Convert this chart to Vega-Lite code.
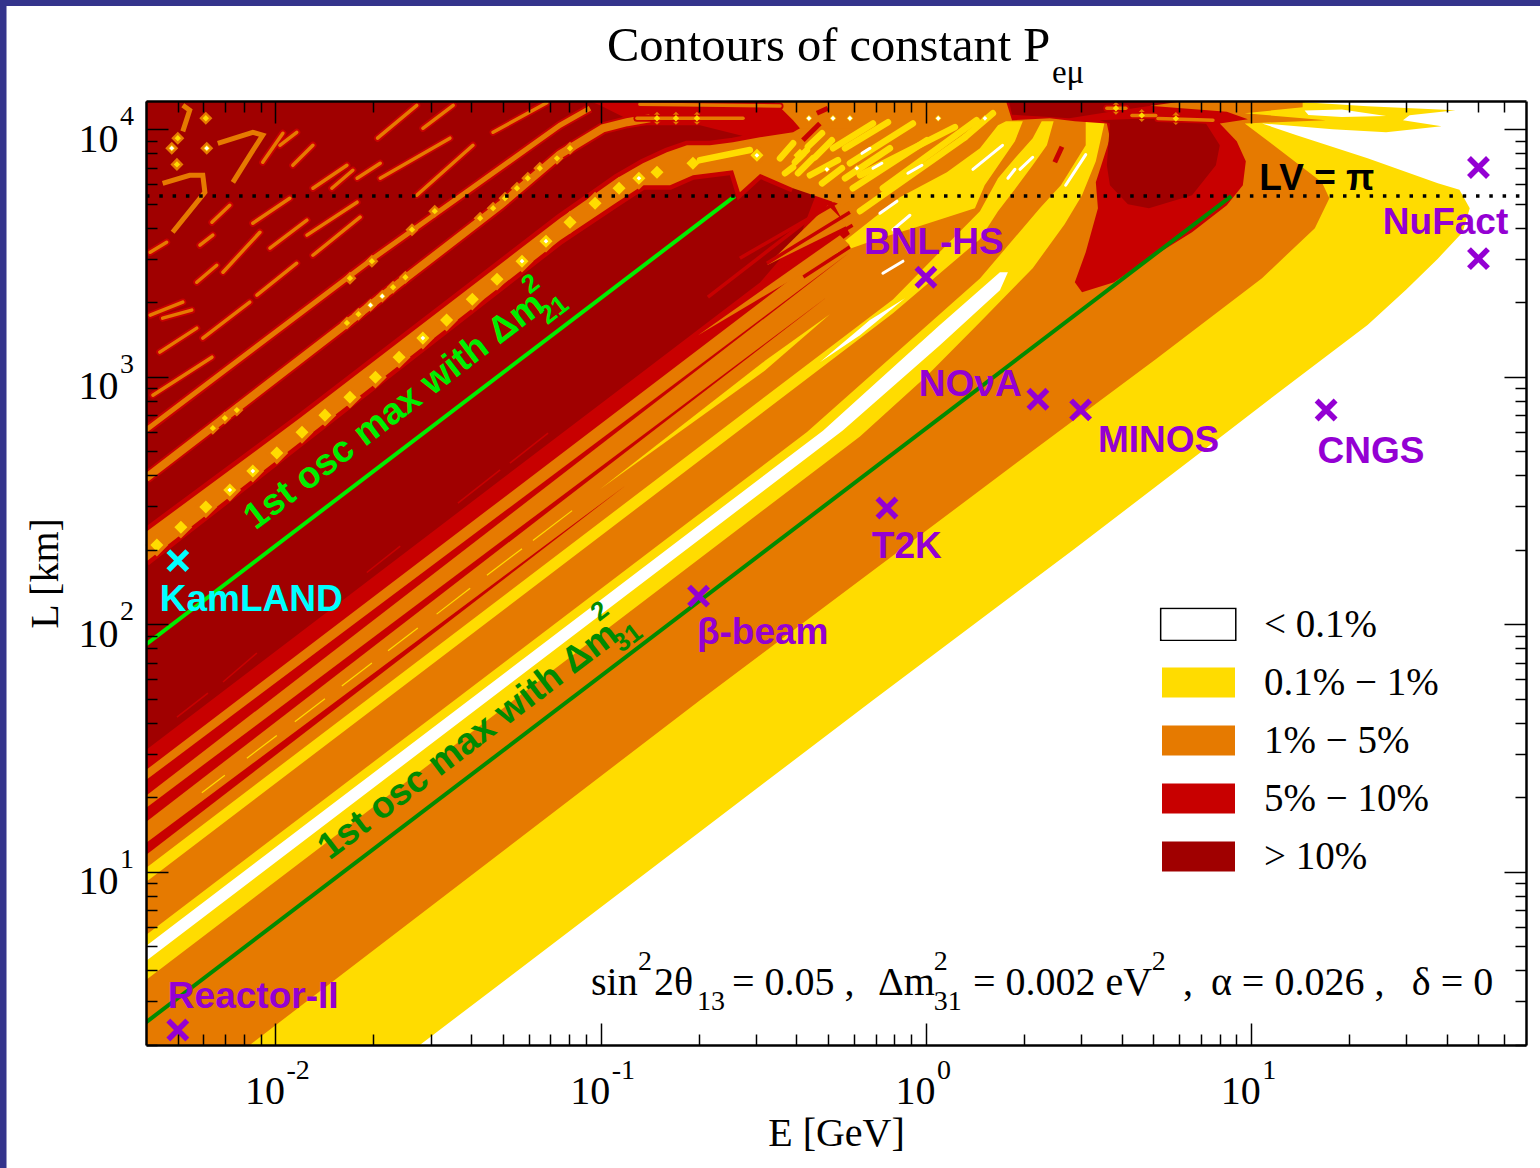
{"$schema":"https://vega.github.io/schema/vega-lite/v6.json","width":1380,"height":944,"autosize":"none","padding":{"left":146,"top":101,"right":14,"bottom":123},"background":"#34348c",
"title":{"text":"Contours of constant P","anchor":"start","frame":"group","dx":461,"fontSize":48.5,"font":"Liberation Serif","fontWeight":"normal","offset":-66,"color":"black"},
"config":{"view":{"stroke":null}},
"datasets":{
"polys":[
{"p":1,"band":"0.1-1","E":0.004,"L":2},{"p":1,"band":"0.1-1","E":0.0278,"L":2},{"p":1,"band":"0.1-1","E":0.687,"L":49.4},{"p":1,"band":"0.1-1","E":2.84,"L":200},{"p":1,"band":"0.1-1","E":8.19,"L":581},{"p":1,"band":"0.1-1","E":13.8,"L":983},{"p":1,"band":"0.1-1","E":22.8,"L":1617},{"p":1,"band":"0.1-1","E":30,"L":2250},{"p":1,"band":"0.1-1","E":37.5,"L":3000},{"p":1,"band":"0.1-1","E":44.7,"L":3836},{"p":1,"band":"0.1-1","E":47,"L":4795},{"p":1,"band":"0.1-1","E":43.7,"L":5690},{"p":1,"band":"0.1-1","E":37.5,"L":6047},{"p":1,"band":"0.1-1","E":22.8,"L":7630},{"p":1,"band":"0.1-1","E":13.8,"L":9459},{"p":1,"band":"0.1-1","E":10.8,"L":10550},{"p":1,"band":"0.1-1","E":17.8,"L":10000},{"p":1,"band":"0.1-1","E":26,"L":9722},{"p":1,"band":"0.1-1","E":38.5,"L":10280},{"p":1,"band":"0.1-1","E":29.3,"L":10870},{"p":1,"band":"0.1-1","E":30.7,"L":11385},{"p":1,"band":"0.1-1","E":42.5,"L":11930},{"p":1,"band":"0.1-1","E":22.8,"L":12380},{"p":1,"band":"0.1-1","E":14.6,"L":12850},{"p":1,"band":"0.1-1","E":14.6,"L":13000},{"p":1,"band":"0.1-1","E":0.004,"L":13000},
{"p":2,"band":"<0.1","E":14.6,"L":11900},{"p":2,"band":"<0.1","E":19,"L":12000},{"p":2,"band":"<0.1","E":26,"L":11300},{"p":2,"band":"<0.1","E":19,"L":11200},{"p":2,"band":"<0.1","E":15,"L":11400},
{"p":3,"band":"1-5","E":0.00834,"L":2},{"p":3,"band":"1-5","E":0.202,"L":49.4},{"p":3,"band":"1-5","E":2.47,"L":581},{"p":3,"band":"1-5","E":5.09,"L":1178},{"p":3,"band":"1-5","E":10.8,"L":2502},{"p":3,"band":"1-5","E":15.7,"L":3983},{"p":3,"band":"1-5","E":17.4,"L":5262},{"p":3,"band":"1-5","E":16.5,"L":6100},{"p":3,"band":"1-5","E":12.25,"L":8244},{"p":3,"band":"1-5","E":9.56,"L":10550},{"p":3,"band":"1-5","E":16.97,"L":10870},{"p":3,"band":"1-5","E":9.56,"L":11600},{"p":3,"band":"1-5","E":14.4,"L":12270},{"p":3,"band":"1-5","E":14.4,"L":13000},{"p":3,"band":"1-5","E":0.004,"L":13000},{"p":3,"band":"1-5","E":0.004,"L":2},
{"p":4,"band":"0.1-1","E":0.004,"L":3.66},{"p":4,"band":"0.1-1","E":0.627,"L":574},{"p":4,"band":"0.1-1","E":1,"L":1000},{"p":4,"band":"0.1-1","E":1.466,"L":1662},{"p":4,"band":"0.1-1","E":2.13,"L":2745},{"p":4,"band":"0.1-1","E":2.67,"L":4131},{"p":4,"band":"0.1-1","E":3.02,"L":5412},{"p":4,"band":"0.1-1","E":3.33,"L":7424},{"p":4,"band":"0.1-1","E":3.55,"L":10770},{"p":4,"band":"0.1-1","E":3.1,"L":10770},{"p":4,"band":"0.1-1","E":3.1,"L":8610},{"p":4,"band":"0.1-1","E":2.6,"L":5940},{"p":4,"band":"0.1-1","E":2.24,"L":4795},{"p":4,"band":"0.1-1","E":1.466,"L":2495},{"p":4,"band":"0.1-1","E":0.431,"L":599},{"p":4,"band":"0.1-1","E":0.004,"L":5.56},
{"p":5,"band":"0.1-1","E":0.004,"L":9.11},{"p":5,"band":"0.1-1","E":0.792,"L":1804},{"p":5,"band":"0.1-1","E":1.466,"L":3595},{"p":5,"band":"0.1-1","E":1.666,"L":4665},{"p":5,"band":"0.1-1","E":1.878,"L":5724},{"p":5,"band":"0.1-1","E":2.13,"L":7150},{"p":5,"band":"0.1-1","E":2.355,"L":8610},{"p":5,"band":"0.1-1","E":2.47,"L":10770},{"p":5,"band":"0.1-1","E":2.27,"L":10770},{"p":5,"band":"0.1-1","E":2.13,"L":9198},{"p":5,"band":"0.1-1","E":1.878,"L":7630},{"p":5,"band":"0.1-1","E":1.666,"L":6339},{"p":5,"band":"0.1-1","E":1.466,"L":4665},{"p":5,"band":"0.1-1","E":0.792,"L":2054},{"p":5,"band":"0.1-1","E":0.004,"L":10.38},
{"p":6,"band":"0.1-1","E":1.763,"L":10770},{"p":6,"band":"0.1-1","E":1.986,"L":10770},{"p":6,"band":"0.1-1","E":1.878,"L":8944},{"p":6,"band":"0.1-1","E":1.516,"L":5940},{"p":6,"band":"0.1-1","E":1.415,"L":4795},{"p":6,"band":"0.1-1","E":0.912,"L":3983},{"p":6,"band":"0.1-1","E":0.722,"L":3630},{"p":6,"band":"0.1-1","E":0.4826,"L":3013},{"p":6,"band":"0.1-1","E":0.832,"L":5313},{"p":6,"band":"0.1-1","E":1.16,"L":6700},{"p":6,"band":"0.1-1","E":1.466,"L":8375},{"p":6,"band":"0.1-1","E":1.666,"L":10380},
{"p":7,"band":"0.1-1","E":0.0995,"L":351},{"p":7,"band":"0.1-1","E":0.32,"L":1160},{"p":7,"band":"0.1-1","E":0.507,"L":1787},{"p":7,"band":"0.1-1","E":0.32,"L":1060},
{"p":8,"band":"<0.1","E":0.004,"L":4.37},{"p":8,"band":"<0.1","E":0.555,"L":607},{"p":8,"band":"<0.1","E":1.104,"L":1342},{"p":8,"band":"<0.1","E":1.689,"L":2238},{"p":8,"band":"<0.1","E":1.787,"L":2645},{"p":8,"band":"<0.1","E":1.689,"L":2645},{"p":8,"band":"<0.1","E":1.104,"L":1617},{"p":8,"band":"<0.1","E":0.4826,"L":606},{"p":8,"band":"<0.1","E":0.004,"L":5.02},
{"p":9,"band":"<0.1","E":0.472,"L":1146},{"p":9,"band":"<0.1","E":0.627,"L":1473},{"p":9,"band":"<0.1","E":0.862,"L":2077},{"p":9,"band":"<0.1","E":0.673,"L":1694},
{"p":10,"band":"5-10","E":0.004,"L":25.8},{"p":10,"band":"5-10","E":0.584,"L":3771},{"p":10,"band":"5-10","E":0.507,"L":5313},{"p":10,"band":"5-10","E":0.41,"L":10085},{"p":10,"band":"5-10","E":0.3905,"L":10870},{"p":10,"band":"5-10","E":0.356,"L":12270},{"p":10,"band":"5-10","E":0.3388,"L":13000},{"p":10,"band":"5-10","E":0.004,"L":13000},
{"p":11,"band":"5-10","E":0.004,"L":11.71},{"p":11,"band":"5-10","E":0.1196,"L":365},{"p":11,"band":"5-10","E":0.004,"L":13.1},
{"p":12,"band":"5-10","E":0.004,"L":15.92},{"p":12,"band":"5-10","E":0.5,"L":2116},{"p":12,"band":"5-10","E":0.004,"L":18.14},
{"p":13,"band":"5-10","E":0.004,"L":20.3},{"p":13,"band":"5-10","E":0.584,"L":3185},{"p":13,"band":"5-10","E":0.004,"L":23.5},
{"p":14,"band":">10","E":0.004,"L":31.1},{"p":14,"band":">10","E":0.132,"L":1027},{"p":14,"band":">10","E":0.309,"L":2403},{"p":14,"band":">10","E":0.41,"L":3696},{"p":14,"band":">10","E":0.456,"L":5313},{"p":14,"band":">10","E":0.309,"L":9027},{"p":14,"band":">10","E":0.202,"L":10380},{"p":14,"band":">10","E":0.132,"L":10380},{"p":14,"band":">10","E":0.0995,"L":12490},{"p":14,"band":">10","E":0.0925,"L":13000},{"p":14,"band":">10","E":0.004,"L":13000},
{"p":18,"band":"1-5","E":0.3245,"L":2822},{"p":18,"band":"1-5","E":0.4996,"L":4930},{"p":18,"band":"1-5","E":0.576,"L":4095},
{"p":19,"band":"1-5","E":0.1992,"L":1473},{"p":19,"band":"1-5","E":0.544,"L":3733},{"p":19,"band":"1-5","E":0.584,"L":3399},
{"p":15,"band":"5-10","E":3.6,"L":10550},{"p":15,"band":"5-10","E":3.68,"L":9198},{"p":15,"band":"5-10","E":3.33,"L":6100},{"p":15,"band":"5-10","E":3.38,"L":4795},{"p":15,"band":"5-10","E":3.1,"L":3185},{"p":15,"band":"5-10","E":2.87,"L":2409},{"p":15,"band":"5-10","E":3.02,"L":2195},{"p":15,"band":"5-10","E":3.79,"L":2409},{"p":15,"band":"5-10","E":4.52,"L":2822},{"p":15,"band":"5-10","E":6.58,"L":3836},{"p":15,"band":"5-10","E":8.42,"L":4930},{"p":15,"band":"5-10","E":9.43,"L":5940},{"p":15,"band":"5-10","E":9.63,"L":7424},{"p":15,"band":"5-10","E":9.03,"L":8944},{"p":15,"band":"5-10","E":8.01,"L":10550},{"p":15,"band":"5-10","E":9.77,"L":10960},{"p":15,"band":"5-10","E":8.42,"L":11760},{"p":15,"band":"5-10","E":5.09,"L":12380},{"p":15,"band":"5-10","E":3.1,"L":13000},{"p":15,"band":"5-10","E":1.763,"L":13000},{"p":15,"band":"5-10","E":1.84,"L":10870},{"p":15,"band":"5-10","E":2.405,"L":11070},{"p":15,"band":"5-10","E":2.87,"L":10770},
{"p":16,"band":">10","E":3.68,"L":10550},{"p":16,"band":">10","E":3.6,"L":7150},{"p":16,"band":">10","E":3.68,"L":5940},{"p":16,"band":">10","E":4.18,"L":4976},{"p":16,"band":">10","E":4.85,"L":4795},{"p":16,"band":">10","E":6.58,"L":5412},{"p":16,"band":">10","E":7.79,"L":7150},{"p":16,"band":">10","E":8.01,"L":8610},{"p":16,"band":">10","E":7.26,"L":10550},{"p":16,"band":">10","E":4.88,"L":11070},{"p":16,"band":">10","E":3.42,"L":10870},
{"p":17,"band":">10","E":1.84,"L":11450},{"p":17,"band":">10","E":1.8,"L":13000},{"p":17,"band":">10","E":6.26,"L":13000},{"p":17,"band":">10","E":3.94,"L":11930},{"p":17,"band":">10","E":2.76,"L":11070}
],
"ring":[
{"seg":"lo","band":"1-5","E":0.004,"L":179},{"seg":"lo","band":"1-5","E":0.0119,"L":544},{"seg":"lo","band":"1-5","E":0.075,"L":3562},{"seg":"lo","band":"1-5","E":0.0947,"L":4370},{"seg":"lo","band":"1-5","E":0.1122,"L":5073},{"seg":"lo","band":"1-5","E":0.1349,"L":5940},{"seg":"lo","band":"1-5","E":0.1634,"L":5940},{"seg":"lo","band":"1-5","E":0.1922,"L":6517},{"seg":"lo","band":"1-5","E":0.2552,"L":6827},{"seg":"lo","band":"1-5","E":0.268,"L":5560},{"seg":"lo","band":"1-5","E":0.309,"L":6600},{"seg":"lo","band":"1-5","E":0.3905,"L":5776},
{"seg":"cap","band":"1-5","E":0.556,"L":4930},{"seg":"cap","band":"1-5","E":0.673,"L":5668},{"seg":"cap","band":"1-5","E":0.627,"L":10085},{"seg":"cap","band":"1-5","E":0.41,"L":10085},
{"seg":"up","band":"1-5","E":0.3905,"L":9718},{"seg":"up","band":"1-5","E":0.309,"L":9278},{"seg":"up","band":"1-5","E":0.2552,"L":8855},{"seg":"up","band":"1-5","E":0.2168,"L":8610},{"seg":"up","band":"1-5","E":0.1842,"L":8610},{"seg":"up","band":"1-5","E":0.1598,"L":8073},{"seg":"up","band":"1-5","E":0.1349,"L":7283},{"seg":"up","band":"1-5","E":0.1122,"L":6339},{"seg":"up","band":"1-5","E":0.0947,"L":5412},{"seg":"up","band":"1-5","E":0.075,"L":4370},{"seg":"up","band":"1-5","E":0.0119,"L":681},{"seg":"up","band":"1-5","E":0.004,"L":236}
],
"ridges":[
{"r":"r2","E":0.004,"L":390},{"r":"r2","E":0.0196,"L":1946},{"r":"r2","E":0.0491,"L":4930},{"r":"r2","E":0.075,"L":7920},{"r":"r2","E":0.1016,"L":10085},{"r":"r2","E":0.1205,"L":10670},{"r":"r2","E":0.1417,"L":11070},
{"r":"r3","E":0.004,"L":609},{"r":"r3","E":0.02,"L":3013},{"r":"r3","E":0.0405,"L":5826},{"r":"r3","E":0.075,"L":10380},{"r":"r3","E":0.0927,"L":12150}
],
"arcs":[
{"a":"a1","E":0.0045,"L":6047},{"a":"a1","E":0.00545,"L":6517},{"a":"a1","E":0.00598,"L":6517},{"a":"a1","E":0.00607,"L":5560},{"a":"a1","E":0.00483,"L":3836},
{"a":"a2","E":0.00665,"L":8775},{"a":"a2","E":0.00852,"L":9718},{"a":"a2","E":0.00914,"L":9459},{"a":"a2","E":0.00834,"L":7846},{"a":"a2","E":0.0074,"L":6100},
{"a":"a3","E":0.00519,"L":12490},{"a":"a3","E":0.00545,"L":11930},{"a":"a3","E":0.00519,"L":9800}
],
"stripes":[
{"k":"redthin","E":0.0689,"L":592,"E2":0.0526,"L2":448},{"k":"redthin","E":0.0491,"L":421,"E2":0.0364,"L2":309},{"k":"redthin","E":0.0242,"L":207,"E2":0.0191,"L2":162},{"k":"redthin","E":0.00877,"L":76.6,"E2":0.0069,"L2":58.5},{"k":"redthin","E":0.0062,"L":52.8,"E2":0.00498,"L2":42.2},
{"k":"redspike","E":0.2137,"L":2097,"E2":0.44,"L2":4370},{"k":"redspike","E":0.268,"L":3013,"E2":0.5326,"L2":5073},{"k":"redspike","E":0.3245,"L":2875,"E2":0.584,"L2":4623},{"k":"redspike","E":0.3459,"L":2700,"E2":0.595,"L2":4095},{"k":"redspike","E":0.42,"L":2530,"E2":0.584,"L2":3350},
{"k":"redtop","E":0.4186,"L":9027,"E2":0.472,"L2":10550},{"k":"redtop","E":0.4622,"L":11600,"E2":0.4996,"L2":12150},{"k":"redtop","E":2.49,"L":7354,"E2":2.62,"L2":8500},
{"k":"orange","E":0.0042,"L":843,"E2":0.00638,"L2":1200},{"k":"orange","E":0.00598,"L":1433,"E2":0.00834,"L2":2003},{"k":"orange","E":0.00877,"L":2136,"E2":0.01163,"L2":2875},{"k":"orange","E":0.01304,"L":3097,"E2":0.01821,"L2":4413},{"k":"orange","E":0.0272,"L":5412,"E2":0.0405,"L2":8610},{"k":"orange","E":0.021,"L":6339,"E2":0.0344,"L2":9198},{"k":"orange","E":0.0206,"L":9198,"E2":0.0272,"L2":12490},{"k":"orange","E":0.0284,"L":10085,"E2":0.0352,"L2":12490},{"k":"orange","E":0.0467,"L":9718,"E2":0.0683,"L2":12800},{"k":"orange","E":0.00962,"L":3306,"E2":0.0125,"L2":4290},{"k":"orange","E":0.0125,"L":3733,"E2":0.01783,"L2":5073},{"k":"orange","E":0.00852,"L":4171,"E2":0.01107,"L2":5262},{"k":"orange","E":0.00638,"L":4210,"E2":0.00724,"L2":4930},{"k":"orange","E":0.00586,"L":3399,"E2":0.00642,"L2":3733},{"k":"orange","E":0.0069,"L":2645,"E2":0.00896,"L2":3836},{"k":"orange","E":0.00573,"L":2409,"E2":0.0066,"L2":2822},{"k":"orange","E":0.00412,"L":3185,"E2":0.00463,"L2":3494},{"k":"orange","E":0.00412,"L":1773,"E2":0.00519,"L2":2003},{"k":"orange","E":0.0045,"L":1725,"E2":0.00553,"L2":1860},{"k":"orange","E":0.00441,"L":1258,"E2":0.00573,"L2":1572},{"k":"orange","E":0.00914,"L":7353,"E2":0.01054,"L2":9630},{"k":"orange","E":0.01131,"L":7150,"E2":0.01304,"L2":8610},{"k":"orange","E":0.01304,"L":5776,"E2":0.01659,"L2":7150},{"k":"orange","E":0.01491,"L":5776,"E2":0.0173,"L2":6827},{"k":"orange","E":0.01783,"L":6339,"E2":0.021,"L2":7283},{"k":"orange","E":0.01032,"L":8610,"E2":0.01163,"L2":9718},{"k":"orange","E":0.1293,"L":11070,"E2":0.274,"L2":11070},{"k":"orange","E":0.132,"L":12610,"E2":0.356,"L2":12400},{"k":"orange","E":3.6,"L":12150,"E2":4.12,"L2":12150},{"k":"orange","E":4.3,"L":11370,"E2":5.09,"L2":11370},{"k":"orange","E":5.17,"L":11040,"E2":7.63,"L2":10870},
{"k":"yellow","E":0.356,"L":7630,"E2":0.3905,"L2":8775},{"k":"yellow","E":0.3957,"L":7353,"E2":0.4307,"L2":8244},{"k":"yellow","E":0.3688,"L":6640,"E2":0.3905,"L2":7022},{"k":"yellow","E":0.4044,"L":6640,"E2":0.4495,"L2":7630},{"k":"yellow","E":0.4337,"L":8500,"E2":0.4793,"L2":9630},{"k":"yellow","E":0.44,"L":6517,"E2":0.5365,"L2":7497},{"k":"yellow","E":0.456,"L":7705,"E2":0.5139,"L2":9027},{"k":"yellow","E":0.4793,"L":6047,"E2":0.5518,"L2":6955},{"k":"yellow","E":0.518,"L":8375,"E2":0.6875,"L2":10550},{"k":"yellow","E":0.564,"L":8375,"E2":0.7645,"L2":10670},{"k":"yellow","E":0.584,"L":7283,"E2":0.912,"L2":10550},{"k":"yellow","E":0.564,"L":6339,"E2":0.775,"L2":8375},{"k":"yellow","E":0.627,"L":6517,"E2":1.228,"L2":10200},{"k":"yellow","E":0.596,"L":5776,"E2":1.007,"L2":9027},{"k":"yellow","E":0.627,"L":4665,"E2":1.318,"L2":9278},{"k":"yellow","E":1.318,"L":9278,"E2":1.607,"L2":11600},{"k":"yellow","E":0.7375,"L":5776,"E2":1.432,"L2":10870},{"k":"yellow","E":0.202,"L":7497,"E2":0.2877,"L2":8244},
{"k":"white","E":0.722,"L":4576,"E2":0.8145,"L2":5120},{"k":"white","E":0.792,"L":3929,"E2":0.893,"L2":4492},{"k":"white","E":0.7375,"L":2620,"E2":0.85,"L2":2931},{"k":"white","E":0.636,"L":7990,"E2":0.673,"L2":8375},{"k":"white","E":0.6875,"L":6955,"E2":0.732,"L2":7283},{"k":"white","E":0.88,"L":6640,"E2":0.972,"L2":7150},{"k":"white","E":1.395,"L":6888,"E2":1.72,"L2":8610},{"k":"white","E":1.787,"L":6339,"E2":1.878,"L2":6888},{"k":"white","E":2.69,"L":5940,"E2":3.1,"L2":7900},{"k":"white","E":1.946,"L":6888,"E2":2.13,"L2":7705},
{"k":"ythin","E":0.0619,"L":218,"E2":0.0817,"L2":288},{"k":"ythin","E":0.0447,"L":158,"E2":0.0573,"L2":202},{"k":"ythin","E":0.0313,"L":110,"E2":0.0397,"L2":140},{"k":"ythin","E":0.0222,"L":78.3,"E2":0.0274,"L2":96.6},{"k":"ythin","E":0.016,"L":56.4,"E2":0.0198,"L2":69.8},{"k":"ythin","E":0.01147,"L":40.4,"E2":0.0142,"L2":50.1},{"k":"ythin","E":0.00817,"L":28.8,"E2":0.0101,"L2":35.6},{"k":"ythin","E":0.00594,"L":20.9,"E2":0.00699,"L2":24.6}
],
"ringBlobs":[{"E":0.00432,"L":209},{"E":0.00512,"L":247},{"E":0.00611,"L":298},{"E":0.00724,"L":349},{"E":0.00852,"L":416},{"E":0.0101,"L":492},{"E":0.01207,"L":597},{"E":0.0142,"L":700},{"E":0.01695,"L":827},{"E":0.0203,"L":996},{"E":0.024,"L":1200},{"E":0.0284,"L":1433},{"E":0.0336,"L":1694},{"E":0.0403,"L":2058},{"E":0.048,"L":2479},{"E":0.0573,"L":2931},{"E":0.0679,"L":3529},{"E":0.0805,"L":4210},{"E":0.0961,"L":5023},{"E":0.1139,"L":5776},{"E":0.1311,"L":6339},{"E":0.149,"L":6700},{"E":0.1922,"L":7283},{"E":0.3023,"L":7846},{"E":0.41,"L":7846}],
"smallBlobs":[{"E":0.018,"L":1790},{"E":0.01659,"L":1650},{"E":0.023,"L":2300},{"E":0.0251,"L":2523},{"E":0.0426,"L":4370},{"E":0.0467,"L":4795},{"E":0.0508,"L":5262},{"E":0.0553,"L":5776},{"E":0.0597,"L":6339},{"E":0.065,"L":6955},{"E":0.0734,"L":7630},{"E":0.0805,"L":8375},{"E":0.00699,"L":681},{"E":0.00642,"L":620},{"E":0.00761,"L":734},{"E":0.0196,"L":1946},{"E":0.0213,"L":2116},{"E":0.01695,"L":2502},{"E":0.0198,"L":2931},{"E":0.0263,"L":3929},{"E":0.0309,"L":4665},{"E":0.0048,"L":8375},{"E":0.00615,"L":8375},{"E":0.00501,"L":9198},{"E":0.00498,"L":7210},{"E":0.00611,"L":11070},{"E":0.149,"L":11070},{"E":0.1704,"L":11070},{"E":0.1977,"L":11070},{"E":0.4368,"L":11070},{"E":0.518,"L":11070},{"E":0.584,"L":11070},{"E":0.4962,"L":6888},{"E":0.6136,"L":6955},{"E":1.091,"L":11070},{"E":3.84,"L":12150},{"E":4.61,"L":11370},{"E":5.87,"L":11040},{"E":1.519,"L":11070}],
"whiteBlobs":[{"E":0.00724,"L":349},{"E":0.00852,"L":416},{"E":0.0284,"L":1433},{"E":0.0573,"L":2931},{"E":0.0679,"L":3529},{"E":0.1311,"L":6339},{"E":0.3023,"L":7846},{"E":0.0196,"L":1946},{"E":0.0213,"L":2116},{"E":0.0048,"L":8375},{"E":0.00615,"L":8375},{"E":0.4368,"L":11070},{"E":0.518,"L":11070},{"E":0.584,"L":11070},{"E":1.519,"L":11070},{"E":0.4962,"L":6888},{"E":0.6136,"L":6955},{"E":1.091,"L":11070}],
"greens":[{"g":"dark","E":0.004,"L":2.47},{"g":"dark","E":8.69,"L":5370},{"g":"light","E":0.004,"L":83},{"g":"light","E":0.2586,"L":5370}],
"expts":[{"name":"Reactor-II","c":"p","E":0.00501,"L":2.3},{"name":"KamLAND","c":"c","E":0.00501,"L":181},{"name":"beta-beam","c":"p","E":0.2,"L":130},{"name":"T2K","c":"p","E":0.759,"L":295},{"name":"BNL-HS","c":"p","E":1,"L":2523},{"name":"NOvA","c":"p","E":2.21,"L":812},{"name":"MINOS","c":"p","E":2.99,"L":735},{"name":"CNGS","c":"p","E":17,"L":734},{"name":"NuFact","c":"p","E":50,"L":3000},{"name":"NuFact","c":"p","E":50,"L":7000}],
"labels":[{"t":"Reactor-II","c":"p","E":0.00467,"L":3.19},{"t":"KamLAND","c":"c","E":0.00441,"L":127.5},{"t":"β-beam","c":"p","E":0.1977,"L":93.9},{"t":"T2K","c":"p","E":0.682,"L":209},{"t":"BNL-HS","c":"p","E":0.645,"L":3529},{"t":"NOνA","c":"p","E":0.951,"L":942},{"t":"MINOS","c":"p","E":3.38,"L":561},{"t":"CNGS","c":"p","E":16,"L":506},{"t":"NuFact","c":"p","E":25.4,"L":4250},{"t":"LV  = π","c":"k","E":10.6,"L":6393}],
"serifMain":[{"t":"sin","E":0.0934,"L":3.19},{"t":"2θ","E":0.1458,"L":3.19},{"t":"= 0.05 ,","E":0.2532,"L":3.19},{"t":"Δm","E":0.712,"L":3.19},{"t":"= 0.002 eV","E":1.395,"L":3.19},{"t":",","E":6.17,"L":3.19},{"t":"α = 0.026 ,","E":7.52,"L":3.19},{"t":"δ = 0","E":31.2,"L":3.19}],
"serifSmall":[{"t":"2","E":0.1302,"L":4.02},{"t":"13","E":0.1977,"L":2.77},{"t":"2","E":1.058,"L":4.02},{"t":"31","E":1.058,"L":2.77},{"t":"2","E":4.95,"L":4.02},{"t":"-2","E":0.01081,"L":1.459},{"t":"-1","E":0.1081,"L":1.459},{"t":"0","E":1.081,"L":1.459},{"t":"1","E":10.81,"L":1.459},{"t":"1","E":0.00333,"L":10.38},{"t":"2","E":0.00333,"L":103.8},{"t":"3","E":0.00333,"L":1038},{"t":"4","E":0.00333,"L":10380}]
},
"encoding":{"x":{"field":"E","type":"quantitative","scale":{"type":"log","domain":[0.004,70]},"axis":null},"y":{"field":"L","type":"quantitative","scale":{"type":"log","domain":[2,13000]},"axis":null}},
"layer":[
{"data":{"values":[{"E":0.00149,"E2":80,"L":0.6256,"L2":31480}]},"mark":{"type":"rect","fill":"white","clip":false},"encoding":{"x2":{"field":"E2"},"y2":{"field":"L2"}}},
{"data":{"name":"polys"},"mark":{"type":"line","stroke":null,"clip":true,"interpolate":"linear"},"encoding":{"detail":{"field":"p"},"order":{"value":null},"fill":{"field":"band","type":"nominal","scale":{"domain":["<0.1","0.1-1","1-5","5-10",">10"],"range":["#ffffff","#ffdc00","#e67a00","#c80000","#a00000"]},"legend":{"title":null,"orient":"none","legendX":1015,"legendY":486,"symbolType":"M-1,-0.41H1V0.41H-1Z","symbolSize":5329,"rowPadding":-14.75,"labelFont":"Liberation Serif","labelFontSize":39,"labelColor":"black","labelOffset":28,"labelLimit":300,"labelExpr":"{'<0.1':'< 0.1%','0.1-1':'0.1% − 1%','1-5':'1% − 5%','5-10':'5% − 10%','>10':'> 10%'}[datum.label]"}}}},
{"data":{"name":"stripes"},"transform":[{"filter":"datum.k==='redthin'"}],"mark":{"type":"rule","stroke":"#c80000","strokeWidth":1.5,"clip":true},"encoding":{"x2":{"field":"E2"},"y2":{"field":"L2"}}},
{"data":{"name":"stripes"},"transform":[{"filter":"datum.k==='redspike'"}],"mark":{"type":"rule","stroke":"#c80000","strokeWidth":3.5,"clip":true},"encoding":{"x2":{"field":"E2"},"y2":{"field":"L2"}}},
{"data":{"name":"ring"},"transform":[{"filter":"datum.seg!=='cap'"}],"mark":{"type":"line","stroke":"#c80000","strokeWidth":9,"clip":true},"encoding":{"detail":{"field":"seg"},"order":{"value":null}}},
{"data":{"name":"ring"},"mark":{"type":"line","stroke":null,"clip":true},"encoding":{"order":{"value":null},"fill":{"field":"band","type":"nominal"}}},
{"data":{"name":"ringBlobs"},"mark":{"type":"point","shape":"diamond","filled":true,"fill":"#e67a00","stroke":null,"opacity":1,"size":520}},
{"data":{"name":"ridges"},"transform":[{"filter":"datum.r==='r2'"}],"mark":{"type":"line","stroke":"#c80000","strokeWidth":12,"clip":true},"encoding":{"order":{"value":null}}},
{"data":{"name":"ridges"},"transform":[{"filter":"datum.r==='r3'"}],"mark":{"type":"line","stroke":"#c80000","strokeWidth":9,"clip":true},"encoding":{"order":{"value":null}}},
{"data":{"name":"ridges"},"transform":[{"filter":"datum.r==='r2'"}],"mark":{"type":"line","stroke":"#e67a00","strokeWidth":8,"clip":true},"encoding":{"order":{"value":null}}},
{"data":{"name":"ridges"},"transform":[{"filter":"datum.r==='r3'"}],"mark":{"type":"line","stroke":"#e67a00","strokeWidth":5,"clip":true},"encoding":{"order":{"value":null}}},
{"data":{"name":"smallBlobs"},"mark":{"type":"point","shape":"diamond","filled":true,"fill":"#e67a00","stroke":null,"opacity":1,"size":170}},
{"data":{"name":"stripes"},"transform":[{"filter":"datum.k==='orange'"}],"mark":{"type":"rule","stroke":"#c80000","strokeWidth":7,"strokeCap":"round","clip":true},"encoding":{"x2":{"field":"E2"},"y2":{"field":"L2"}}},
{"data":{"name":"arcs"},"mark":{"type":"line","stroke":"#e67a00","strokeWidth":5,"clip":true},"encoding":{"detail":{"field":"a"},"order":{"value":null}}},
{"data":{"name":"stripes"},"transform":[{"filter":"datum.k==='orange'"}],"mark":{"type":"rule","stroke":"#e67a00","strokeWidth":3.5,"strokeCap":"round","clip":true},"encoding":{"x2":{"field":"E2"},"y2":{"field":"L2"}}},
{"data":{"name":"stripes"},"transform":[{"filter":"datum.k==='yellow'"}],"mark":{"type":"rule","stroke":"#ffdc00","strokeWidth":6.5,"strokeCap":"round","clip":true},"encoding":{"x2":{"field":"E2"},"y2":{"field":"L2"}}},
{"data":{"name":"stripes"},"transform":[{"filter":"datum.k==='redtop'"}],"mark":{"type":"rule","stroke":"#c80000","strokeWidth":5,"clip":true},"encoding":{"x2":{"field":"E2"},"y2":{"field":"L2"}}},
{"data":{"name":"stripes"},"transform":[{"filter":"datum.k==='ythin'"}],"mark":{"type":"rule","stroke":"#ffdc00","strokeWidth":1.2,"clip":true},"encoding":{"x2":{"field":"E2"},"y2":{"field":"L2"}}},
{"data":{"name":"stripes"},"transform":[{"filter":"datum.k==='white'"}],"mark":{"type":"rule","stroke":"#ffffff","strokeWidth":3,"strokeCap":"round","clip":true},"encoding":{"x2":{"field":"E2"},"y2":{"field":"L2"}}},
{"data":{"name":"ringBlobs"},"mark":{"type":"point","shape":"diamond","filled":true,"fill":"#ffdc00","stroke":null,"opacity":1,"size":170}},
{"data":{"name":"smallBlobs"},"mark":{"type":"point","shape":"diamond","filled":true,"fill":"#ffdc00","stroke":null,"opacity":1,"size":40}},
{"data":{"name":"whiteBlobs"},"mark":{"type":"point","shape":"diamond","filled":true,"fill":"#ffffff","stroke":null,"opacity":1,"size":22}},
{"data":{"name":"greens"},"transform":[{"filter":"datum.g==='dark'"}],"mark":{"type":"line","stroke":"#008b00","strokeWidth":4,"clip":true}},
{"data":{"name":"greens"},"transform":[{"filter":"datum.g==='light'"}],"mark":{"type":"line","stroke":"#00ee00","strokeWidth":4,"clip":true}},
{"data":{"values":[{"L":5370}]},"mark":{"type":"rule","stroke":"black","strokeWidth":3.5,"strokeDash":[3.5,9.8]},"encoding":{"x":{"value":0},"x2":{"value":1380}}},
{"data":{"values":[{"E":5.27,"E2":8.97,"L":86.3,"L2":116}]},"mark":{"type":"rect","fill":"white","stroke":"black","strokeWidth":1.5},"encoding":{"x2":{"field":"E2"},"y2":{"field":"L2"}}},
{"data":{"name":"expts"},"transform":[{"filter":"datum.c==='p'"}],"mark":{"type":"point","shape":"M-1,-1L1,1M-1,1L1,-1","filled":false,"stroke":"#9400d3","strokeWidth":5.5,"opacity":1,"size":361}},
{"data":{"name":"expts"},"transform":[{"filter":"datum.c==='c'"}],"mark":{"type":"point","shape":"M-1,-1L1,1M-1,1L1,-1","filled":false,"stroke":"#00ffff","strokeWidth":5.5,"opacity":1,"size":361}},
{"data":{"name":"labels"},"mark":{"type":"text","align":"left","baseline":"middle","dy":2,"font":"Liberation Sans","fontWeight":"bold","fontSize":37},"encoding":{"text":{"field":"t"},"color":{"field":"c","type":"nominal","scale":{"domain":["p","c","k"],"range":["#9400d3","#00ffff","#000000"]},"legend":null}}},
{"data":{"values":[{"t":"1st osc max with  Δm","E":0.00828,"L":259}]},"mark":{"type":"text","align":"left","baseline":"middle","font":"Liberation Sans","fontWeight":"bold","fontSize":37,"angle":-37.3,"fill":"#00ee00"},"encoding":{"text":{"field":"t"}}},
{"data":{"values":[{"t":"1st osc max with  Δm","E":0.014,"L":12.04}]},"mark":{"type":"text","align":"left","baseline":"middle","font":"Liberation Sans","fontWeight":"bold","fontSize":37,"angle":-37.3,"fill":"#008b00"},"encoding":{"text":{"field":"t"}}},
{"data":{"values":[{"t":"2","E":0.0609,"L":2370},{"t":"21","E":0.0719,"L":1860}]},"mark":{"type":"text","align":"center","baseline":"middle","font":"Liberation Sans","fontWeight":"bold","fontSize":26,"angle":-37.3,"fill":"#00ee00"},"encoding":{"text":{"field":"t"}}},
{"data":{"values":[{"t":"2","E":0.0994,"L":113},{"t":"31","E":0.1213,"L":88}]},"mark":{"type":"text","align":"center","baseline":"middle","font":"Liberation Sans","fontWeight":"bold","fontSize":26,"angle":-37.3,"fill":"#008b00"},"encoding":{"text":{"field":"t"}}},
{"data":{"name":"serifMain"},"mark":{"type":"text","align":"left","baseline":"alphabetic","font":"Liberation Serif","fontSize":40,"fill":"black"},"encoding":{"text":{"field":"t"}}},
{"data":{"name":"serifSmall"},"mark":{"type":"text","align":"left","baseline":"alphabetic","font":"Liberation Serif","fontSize":28,"fill":"black"},"encoding":{"text":{"field":"t"}}},
{"data":{"values":[{"t":"eμ","E":2.44,"L":15300}]},"mark":{"type":"text","align":"left","baseline":"alphabetic","font":"Liberation Serif","fontSize":33,"fill":"black"},"encoding":{"text":{"field":"t"}}},
{"data":{"values":[{"E":1,"L":10}]},"mark":{"type":"point","opacity":0},"encoding":{
"x":{"field":"E","type":"quantitative","axis":{"orient":"bottom","zindex":1,"title":"E [GeV]","titleFont":"Liberation Serif","titleFontSize":40,"titleFontWeight":"normal","titleColor":"black","titleY":100,"titleBaseline":"alphabetic","grid":false,"domainColor":"black","domainWidth":2.5,"tickColor":"black","tickWidth":1.5,"values":[0.005,0.006,0.007,0.008,0.009,0.01,0.02,0.03,0.04,0.05,0.06,0.07,0.08,0.09,0.1,0.2,0.3,0.4,0.5,0.6,0.7,0.8,0.9,1,2,3,4,5,6,7,8,9,10,20,30,40,50,60],"tickSize":{"condition":{"test":"indexof([0.01,0.1,1,10],datum.value)>=0","value":-22},"value":-11},"labelExpr":"indexof([0.01,0.1,1,10],datum.value)>=0?'10':''","labelFont":"Liberation Serif","labelFontSize":40,"labelColor":"black","labelBaseline":"alphabetic","labelPadding":80,"labelOffset":-11,"labelOverlap":false,"labelBound":false,"labelFlush":false}},
"y":{"field":"L","type":"quantitative","axis":{"orient":"left","zindex":1,"title":"L [km]","titleFont":"Liberation Serif","titleFontSize":40,"titleFontWeight":"normal","titleColor":"black","titleX":-89,"titleBaseline":"alphabetic","grid":false,"domainColor":"black","domainWidth":2.5,"tickColor":"black","tickWidth":1.5,"values":[2,3,4,5,6,7,8,9,10,20,30,40,50,60,70,80,90,100,200,300,400,500,600,700,800,900,1000,2000,3000,4000,5000,6000,7000,8000,9000,10000],"tickSize":{"condition":{"test":"indexof([10,100,1000,10000],datum.value)>=0","value":-22},"value":-11},"labelExpr":"indexof([10,100,1000,10000],datum.value)>=0?'10':''","labelFont":"Liberation Serif","labelFontSize":40,"labelColor":"black","labelPadding":50,"labelOffset":10,"labelOverlap":false,"labelBound":false,"labelFlush":false}}}},
{"data":{"values":[{"E":1,"L":10}]},"mark":{"type":"point","opacity":0},"encoding":{
"x":{"field":"E","type":"quantitative","axis":{"orient":"top","zindex":1,"title":null,"grid":false,"labels":false,"domainColor":"black","domainWidth":2.5,"tickColor":"black","tickWidth":1.5,"values":[0.005,0.006,0.007,0.008,0.009,0.01,0.02,0.03,0.04,0.05,0.06,0.07,0.08,0.09,0.1,0.2,0.3,0.4,0.5,0.6,0.7,0.8,0.9,1,2,3,4,5,6,7,8,9,10,20,30,40,50,60],"tickSize":{"condition":{"test":"indexof([0.01,0.1,1,10],datum.value)>=0","value":-22},"value":-11}}},
"y":{"field":"L","type":"quantitative","axis":{"orient":"right","zindex":1,"title":null,"grid":false,"labels":false,"domainColor":"black","domainWidth":2.5,"tickColor":"black","tickWidth":1.5,"values":[2,3,4,5,6,7,8,9,10,20,30,40,50,60,70,80,90,100,200,300,400,500,600,700,800,900,1000,2000,3000,4000,5000,6000,7000,8000,9000,10000],"tickSize":{"condition":{"test":"indexof([10,100,1000,10000],datum.value)>=0","value":-22},"value":-11}}}}}
],
"resolve":{"axis":{"x":"independent","y":"independent"}}
}
